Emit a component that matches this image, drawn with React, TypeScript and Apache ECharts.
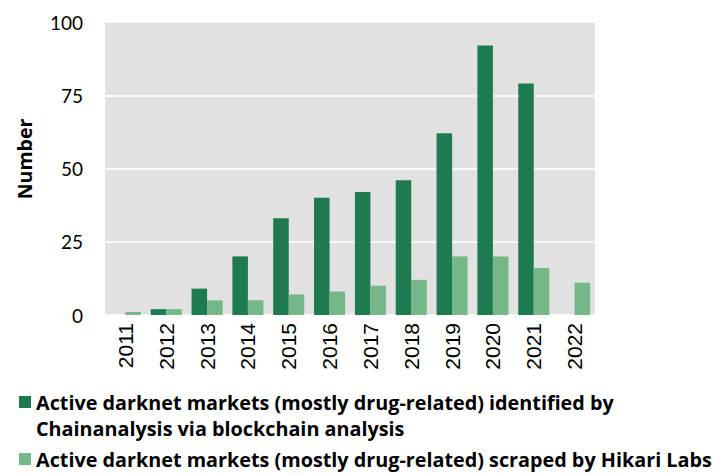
import React, { useEffect, useRef } from "react";
import * as echarts from "echarts";

const categories = ["2011", "2012", "2013", "2014", "2015", "2016", "2017", "2018", "2019", "2020", "2021", "2022"];
const chainanalysis = [null, 2, 9, 20, 33, 40, 42, 46, 62, 92, 79, null];
const hikari = [1, 2, 5, 5, 7, 8, 10, 12, 20, 20, 16, 11];
const seriesNames = [
  "Active darknet markets (mostly drug-related) identified by\nChainanalysis via blockchain analysis",
  "Active darknet markets (mostly drug-related) scraped by Hikari Labs",
];
const yTicks = [0, 25, 50, 75, 100];

const DARK = "#1e7b4f";
const LIGHT = "#76b787";

export default function App() {
  const ref = useRef<HTMLDivElement>(null);
  useEffect(() => {
    if (!ref.current) return;
    const chart = echarts.init(ref.current, null, { renderer: "svg" });
    const legendFont = { fontFamily: "Open Sans", fontWeight: "bold", fontSize: 19.8, fill: "#000" };
    chart.setOption({
      animation: false,
      grid: { left: 105, right: 132, top: 22, bottom: 160, backgroundColor: "#e1e1e1", show: true, borderWidth: 0 },
      xAxis: {
        type: "category",
        data: categories,
        axisLine: { show: false },
        axisTick: { show: false },
        axisLabel: {
          rotate: 90,
          interval: 0,
          margin: 8,
          fontFamily: "Liberation Sans",
          fontSize: 21,
          color: "#000",
        },
      },
      yAxis: {
        type: "value",
        min: yTicks[0],
        max: yTicks[yTicks.length - 1],
        interval: 25,
        axisLine: { show: false },
        axisTick: { show: false },
        splitLine: { lineStyle: { color: "#ffffff", width: 1.5 } },
        axisLabel: { margin: 22, fontFamily: "Lato", fontSize: 19, color: "#000" },
      },
      legend: { show: false },
      series: [
        {
          name: seriesNames[0],
          type: "bar",
          data: chainanalysis,
          itemStyle: { color: DARK },
          barGap: "0%",
          barCategoryGap: "24%",
        },
        {
          name: seriesNames[1],
          type: "bar",
          data: hikari,
          itemStyle: { color: LIGHT },
          barGap: "0%",
          barCategoryGap: "24%",
        },
      ],
      graphic: [
        {
          type: "text",
          x: 24,
          y: 159,
          rotation: Math.PI / 2,
          style: { text: "Number", fontFamily: "Open Sans", fontWeight: "bold", fontSize: 19.5, fill: "#000", align: "center", verticalAlign: "middle" },
        },
        { type: "rect", shape: { x: 19, y: 396, width: 12, height: 12 }, style: { fill: DARK } },
        { type: "text", x: 36, y: 402, style: { ...legendFont, text: "Active darknet markets (mostly drug-related) identified by", verticalAlign: "middle" } },
        { type: "text", x: 36, y: 428, style: { ...legendFont, text: "Chainanalysis via blockchain analysis", verticalAlign: "middle" } },
        { type: "rect", shape: { x: 19, y: 453, width: 12, height: 12 }, style: { fill: LIGHT } },
        { type: "text", x: 36, y: 459, style: { ...legendFont, text: "Active darknet markets (mostly drug-related) scraped by Hikari Labs", verticalAlign: "middle" } },
      ],
    });
    return () => chart.dispose();
  }, []);
  return <div ref={ref} style={{ width: 727, height: 475, position: "absolute", left: 0, top: 0 }} />;
}
